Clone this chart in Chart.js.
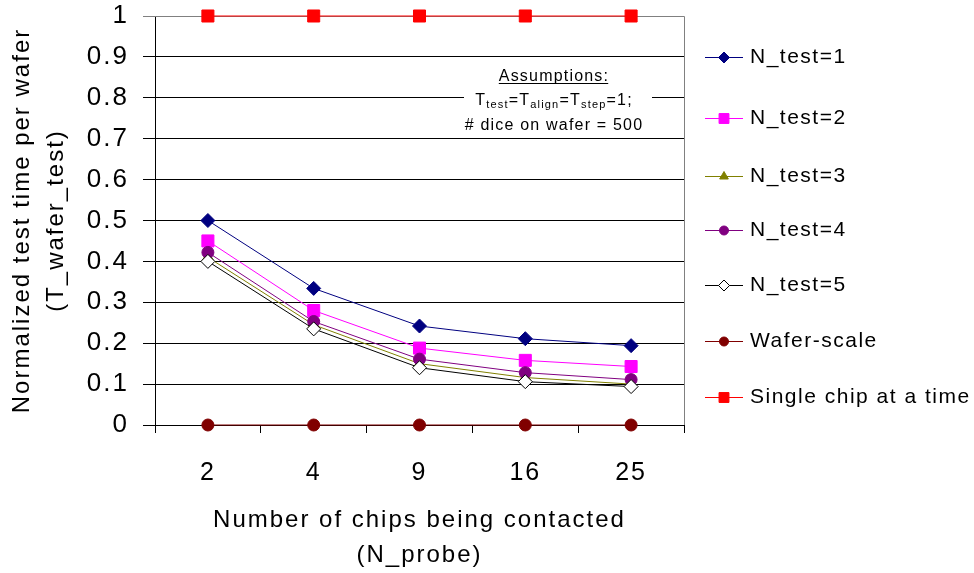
<!DOCTYPE html>
<html>
<head>
<meta charset="utf-8">
<script src="https://cdn.jsdelivr.net/npm/chart.js@4.4.1/dist/chart.umd.min.js"></script>
<style>
  html, body { margin: 0; padding: 0; background: #ffffff; }
  #wrap { width: 974px; height: 573px; }
</style>
</head>
<body>
<div id="wrap"><canvas id="chart" width="974" height="573"></canvas></div>
<script>
// Number of chips contacted at once (x categories)
const probeCounts = ['2', '4', '9', '16', '25'];

// Normalized test time per wafer for each number of tests
const nTest1 = [0.500, 0.334, 0.242, 0.211, 0.194];
const nTest2 = [0.450, 0.280, 0.188, 0.158, 0.143];
const nTest3 = [0.410, 0.245, 0.150, 0.116, 0.100];
const nTest4 = [0.422, 0.253, 0.161, 0.128, 0.111];
const nTest5 = [0.400, 0.235, 0.140, 0.106, 0.094];
const waferScale = [0, 0, 0, 0, 0];
const singleChip = [1, 1, 1, 1, 1];

const seriesNames = ['N_test=1', 'N_test=2', 'N_test=3', 'N_test=4', 'N_test=5', 'Wafer-scale', 'Single chip at a time'];

// y axis tick labels, 0 to 1 in steps of 0.1
const yTickLabels = ['0', '0.1', '0.2', '0.3', '0.4', '0.5', '0.6', '0.7', '0.8', '0.9', '1'];

const FONT = '"Liberation Sans", Arial, sans-serif';

function series(label, data, color, style, radius, fill) {
  return {
    label: label,
    data: data,
    borderColor: color,
    backgroundColor: fill || color,
    borderWidth: 1,
    pointStyle: style,
    pointRadius: radius,
    pointHoverRadius: radius,
    pointBorderColor: color,
    pointBackgroundColor: fill || color,
    pointBorderWidth: 1,
    tension: 0,
    clip: false
  };
}

const datasets = [
  series(seriesNames[0], nTest1, '#000080', 'rectRot', 7),
  series(seriesNames[1], nTest2, '#FF00FF', 'rect', 8.5),
  series(seriesNames[2], nTest3, '#808000', 'triangle', 6.5),
  series(seriesNames[3], nTest4, '#800080', 'circle', 6),
  series(seriesNames[4], nTest5, '#000000', 'rectRot', 7, '#FFFFFF'),
  series(seriesNames[5], waferScale, '#800000', 'circle', 6),
  series(seriesNames[6], singleChip, '#FF0000', 'rect', 8.5)
];
// later series are painted above earlier ones
datasets.forEach((d, i) => { d.order = datasets.length - i; });

const AXIS_SPACING = '2px';

// wide text tracking for the axis labels and titles
const tracking = {
  id: 'tracking',
  beforeLayout(chart) { chart.ctx.letterSpacing = AXIS_SPACING; },
  beforeDraw(chart) { chart.ctx.letterSpacing = AXIS_SPACING; }
};

// plot frame: grey top and right edges
const frame = {
  id: 'frame',
  beforeDatasetsDraw(chart) {
    const { ctx, chartArea: a } = chart;
    ctx.save();
    ctx.strokeStyle = '#808080';
    ctx.lineWidth = 1;
    ctx.beginPath();
    ctx.moveTo(a.left, a.top + 0.5);
    ctx.lineTo(a.right + 0.5, a.top + 0.5);
    ctx.lineTo(a.right + 0.5, a.bottom);
    ctx.stroke();
    ctx.restore();
  }
};

// note box with the model assumptions
const notes = {
  id: 'notes',
  afterDatasetsDraw(chart) {
    const ctx = chart.ctx;
    const cx = 554;
    ctx.save();
    ctx.letterSpacing = '1.2px';
    ctx.fillStyle = '#FFFFFF';
    ctx.fillRect(464, 63, 188, 69);
    ctx.fillStyle = '#000000';
    ctx.textBaseline = 'alphabetic';
    ctx.font = '16px ' + FONT;

    // heading, underlined
    const head = 'Assumptions:';
    const hw = ctx.measureText(head).width;
    ctx.fillText(head, cx - hw / 2, 81);
    ctx.fillRect(cx - hw / 2, 83, hw - 1, 1);

    // T_test=T_align=T_step=1;
    const parts = [['T', 0], ['test', 1], ['=T', 0], ['align', 1], ['=T', 0], ['step', 1], ['=1;', 0]];
    const fontOf = (s) => (s ? '11px ' : '16px ') + FONT;
    let w = 0;
    parts.forEach(([t, s]) => { ctx.font = fontOf(s); w += ctx.measureText(t).width; });
    let x = cx - w / 2;
    parts.forEach(([t, s]) => {
      ctx.font = fontOf(s);
      ctx.fillText(t, x, s ? 108 : 105);
      x += ctx.measureText(t).width;
    });

    ctx.font = '16px ' + FONT;
    const l3 = '# dice on wafer = 500';
    ctx.fillText(l3, cx - ctx.measureText(l3).width / 2, 130);
    ctx.restore();
  }
};

// legend on the right: line sample with marker, then the series name
const legendRows = [57, 118, 176, 230, 285, 341, 397];
const sideLegend = {
  id: 'sideLegend',
  afterDraw(chart) {
    const ctx = chart.ctx;
    const x0 = 705, x1 = 743, xm = 724, tx = 750;
    ctx.save();
    ctx.letterSpacing = '1.5px';
    chart.data.datasets.forEach((d, i) => {
      const y = legendRows[i] + 0.5;
      ctx.strokeStyle = d.borderColor;
      ctx.lineWidth = 1;
      ctx.beginPath();
      ctx.moveTo(x0, y);
      ctx.lineTo(x1, y);
      ctx.stroke();
      ctx.fillStyle = d.pointBackgroundColor;
      ctx.strokeStyle = d.pointBorderColor;
      Chart.helpers.drawPoint(ctx, {
        pointStyle: d.pointStyle,
        radius: d.pointRadius - 1.5,
        rotation: 0,
        borderWidth: 1
      }, xm, y);
      ctx.fillStyle = '#000000';
      ctx.font = '21px ' + FONT;
      ctx.textBaseline = 'middle';
      ctx.fillText(d.label, tx, y);
    });
    ctx.restore();
  }
};

new Chart(document.getElementById('chart'), {
  type: 'line',
  data: { labels: probeCounts, datasets: datasets },
  plugins: [tracking, frame, notes, sideLegend],
  options: {
    responsive: false,
    animation: false,
    events: [],
    layout: { padding: { top: 16, right: 290, bottom: 0, left: 0 } },
    plugins: {
      legend: { display: false },
      tooltip: { enabled: false }
    },
    scales: {
      x: {
        offset: true,
        afterFit(axis) { axis.height = 148; axis.paddingLeft = 0; axis.paddingRight = 0; },
        grid: {
          offset: true,
          drawOnChartArea: false,
          drawTicks: true,
          tickLength: 8,
          color: '#000000'
        },
        border: { color: '#000000', width: 1 },
        ticks: {
          color: '#000000',
          font: { family: FONT, size: 25 },
          padding: 25,
          maxRotation: 0
        },
        title: {
          display: true,
          text: ['Number of chips being contacted', '(N_probe)'],
          color: '#000000',
          font: { family: FONT, size: 24, lineHeight: 1.45 },
          padding: { top: 2, bottom: 0 }
        }
      },
      y: {
        min: 0,
        max: 1,
        afterFit(axis) { axis.width = 155; axis.paddingTop = 0; axis.paddingBottom = 0; },
        grid: {
          color: (c) => (c.tick && c.tick.value === 1 ? '#808080' : '#000000'),
          lineWidth: 1,
          tickLength: 12,
          drawTicks: true
        },
        border: { color: '#000000', width: 1 },
        ticks: {
          stepSize: 0.1,
          color: '#000000',
          font: { family: FONT, size: 26 },
          padding: 14,
          callback: (value, index) => yTickLabels[index]
        },
        title: {
          display: true,
          text: ['Normalized test time per wafer', '(T_wafer_test)'],
          color: '#000000',
          font: { family: FONT, size: 24, lineHeight: 1.4 },
          padding: { top: 6, bottom: 0 }
        }
      }
    }
  }
});
</script>
</body>
</html>
